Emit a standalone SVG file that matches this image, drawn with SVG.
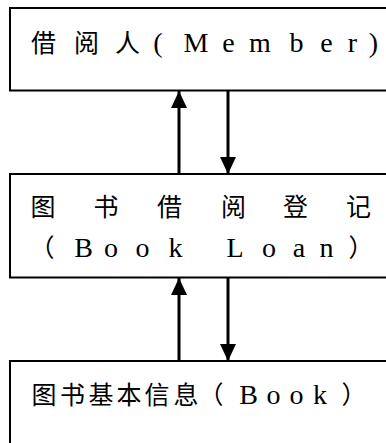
<svg xmlns="http://www.w3.org/2000/svg" width="386" height="443" viewBox="0 0 386 443">
<style>
.box{fill:#fff;stroke:#000;stroke-width:2}
.t{font-family:"Liberation Serif","Noto Sans CJK SC",serif;font-size:25px;fill:#000;text-anchor:middle}
.l{font-size:28px}
.c{stroke:#000;stroke-width:3;fill:none}
</style>
<defs>
<marker id="ah" markerUnits="userSpaceOnUse" markerWidth="17" markerHeight="18" refX="17" refY="8" orient="auto" viewBox="0 0 17 16">
<path d="M0,0 L17,8 L0,16 Z" fill="#000"/>
</marker>
</defs>
<rect width="386" height="443" fill="#fff"/>
<g id="member">
<rect class="box" x="10" y="8" width="400" height="82.5"/>
<text class="t" x="43.5 86.5 127.5 158 196 228.5 260 296.5 326.5 352.5 373.5" y="52">借阅人<tspan class="l">(Member)</tspan></text>
</g>
<g id="bookloan">
<rect class="box" x="10" y="174" width="400" height="103.5"/>
<text class="t" x="43 106 169.5 233.5 295.5 358.5" y="216">图书借阅登记</text>
<text class="t" x="42 83.5 111 142.5 175.5 235 269 299 326.5 361" y="257">（<tspan class="l">BookLoan</tspan>）</text>
</g>
<g id="book">
<rect class="box" x="10" y="361" width="400" height="100"/>
<text class="t" x="44 72.5 101 129 157 186 211 248.5 273.5 296.5 320 354" y="404">图书基本信息（<tspan class="l">Book</tspan>）</text>
</g>
<g id="connectors">
<line class="c" x1="179" y1="174" x2="179" y2="91" marker-end="url(#ah)"/>
<line class="c" x1="228" y1="91" x2="228" y2="174" marker-end="url(#ah)"/>
<line class="c" x1="179" y1="361" x2="179" y2="278" marker-end="url(#ah)"/>
<line class="c" x1="228" y1="278" x2="228" y2="361" marker-end="url(#ah)"/>
</g>
</svg>
